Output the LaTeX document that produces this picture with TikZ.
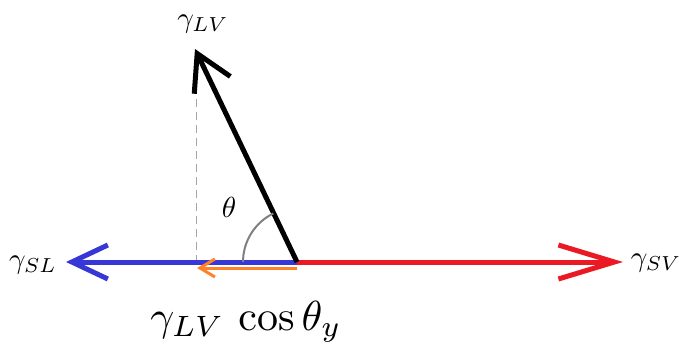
\documentclass[tikz,border=0pt]{standalone}
\usetikzlibrary{arrows.meta}
\begin{document}
\begin{tikzpicture}[x=1pt,y=1pt,
  bigvec/.style={line width=5pt},
  lbl/.style={inner sep=0pt,scale=2.9,transform shape}]
\useasboundingbox (0,0) rectangle (679,343);
\coordinate (O) at (297,81);
\coordinate (L) at (66,81);
\coordinate (R) at (623,81);
\coordinate (T) at (195,294);
\coordinate (D1) at (196,283);
\coordinate (D0) at (196,81);
\coordinate (Os) at (297,75);
\coordinate (Oe) at (197,75);
\draw[gray!70,line width=1pt,dash pattern=on 8pt off 5pt] (D1) -- (D0);
\draw[bigvec,draw={rgb,255:red,55;green,55;blue,215},-{Straight Barb[length=36pt,width=34pt,line width=5pt]}] (O) -- (L);
\draw[bigvec,draw={rgb,255:red,235;green,25;blue,35},-{Straight Barb[length=56pt,width=34pt,line width=5pt]}] (O) -- (R);
\draw[line width=3pt,draw={rgb,255:red,255;green,130;blue,40},-{Straight Barb[length=15pt,width=18pt,line width=3pt]}] (Os) -- (Oe);
\draw[bigvec,black,-{Straight Barb[length=35pt,width=40pt,line width=5pt]}] (O) -- (T);
\draw[gray,line width=2pt] (O) ++(180:54) arc[start angle=180,end angle=116,radius=54];
\node[lbl] (tLV) at (203,319) {$\gamma_{LV}$};
\node[lbl] (tSL) at (33,78) {$\gamma_{SL}$};
\node[lbl] (tSV) at (656,80) {$\gamma_{SV}$};
\node[lbl] (th) at (229,136) {$\theta$};
\node[inner sep=0pt,scale=4.2,transform shape] (bot) at (246,21) {$\gamma_{LV}\,\cos\theta_y$};
\end{tikzpicture}
\end{document}
